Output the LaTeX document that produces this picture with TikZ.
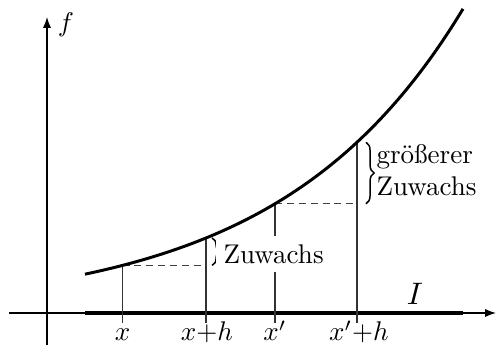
\documentclass[tikz,border=0pt]{standalone}
\usetikzlibrary{arrows.meta,decorations.pathreplacing}
\begin{document}
\begin{tikzpicture}[x=0.37pt,y=-0.37pt,
  axis/.style={line width=0.5pt,-{Latex[length=4pt,width=3pt]}},
  interval/.style={line width=1.6pt},
  vline/.style={line width=0.45pt,black!80},
  helper/.style={line width=0.4pt,black!75,dash pattern=on 2.6pt off 1.8pt},
  graph/.style={line width=1.1pt},
  bracestyle/.style={decorate,decoration={brace,amplitude=3pt},line width=0.55pt},
  lbl/.style={inner sep=0pt}]
\useasboundingbox (0,0) rectangle (497,350);
\pgfmathsetmacro\ya{313-75*exp(0.00545*(122.5-206))}
\pgfmathsetmacro\yb{313-75*exp(0.00545*(206-206))}
\pgfmathsetmacro\yc{313-75*exp(0.00545*(275-206))}
\pgfmathsetmacro\yd{313-75*exp(0.00545*(357-206))}
% axes
\coordinate (xs) at (9,313);
\coordinate (xe) at (496,313);
\coordinate (ys) at (47,345);
\coordinate (ye) at (47,17);
\draw[axis] (xs) -- (xe);
\draw[axis] (ys) -- (ye);
\node[lbl] (f) at (66,25) {$f$};
% interval
\coordinate (ia) at (85,313);
\coordinate (ib) at (463,313);
\draw[interval] (ia) -- (ib);
\node[lbl,anchor=base,scale=1.15] (I) at (415,305) {$I$};
% points
\coordinate (c1) at (122.5,\ya);
\coordinate (c2) at (206,\yb);
\coordinate (c3) at (275,\yc);
\coordinate (c4) at (357,\yd);
\coordinate (b1) at (122.5,323);
\coordinate (b2) at (206,323);
\coordinate (b3) at (275,323);
\coordinate (b4) at (357,323);
\draw[vline] (c1) -- (b1);
\draw[vline] (c2) -- (b2);
\draw[vline] (c3) -- (b3);
\draw[vline] (c4) -- (b4);
\draw[helper] (c1) -- (c1 -| c2);
\draw[helper] (c3) -- (c3 -| c4);
% tick labels
\node[lbl,anchor=base] (tx1) at (122.5,341) {$x$};
\node[lbl,anchor=base] (tx2) at (207,341) {$x{+}h$};
\node[lbl,anchor=base] (tx3) at (275,341) {$x'$};
\node[lbl,anchor=base] (tx4) at (359,341) {$x'{+}h$};
% braces
\coordinate (br1a) at (212,\yb);
\coordinate (br1b) at (212,\ya);
\draw[bracestyle] (br1a) -- (br1b);
\node[fill=white,anchor=west,inner sep=3pt] (z1) at (215,254) {Zuwachs};
\coordinate (br2a) at (366,\yd);
\coordinate (br2b) at (366,\yc);
\draw[bracestyle] (br2a) -- (br2b);
\node[anchor=west,align=left,inner sep=0pt] (z2) at (376,170) {größerer\\Zuwachs};
% graph
\draw[graph] plot[domain=85:463,samples=80] (\x,{313-75*exp(0.00545*(\x-206))});
\end{tikzpicture}
\end{document}
